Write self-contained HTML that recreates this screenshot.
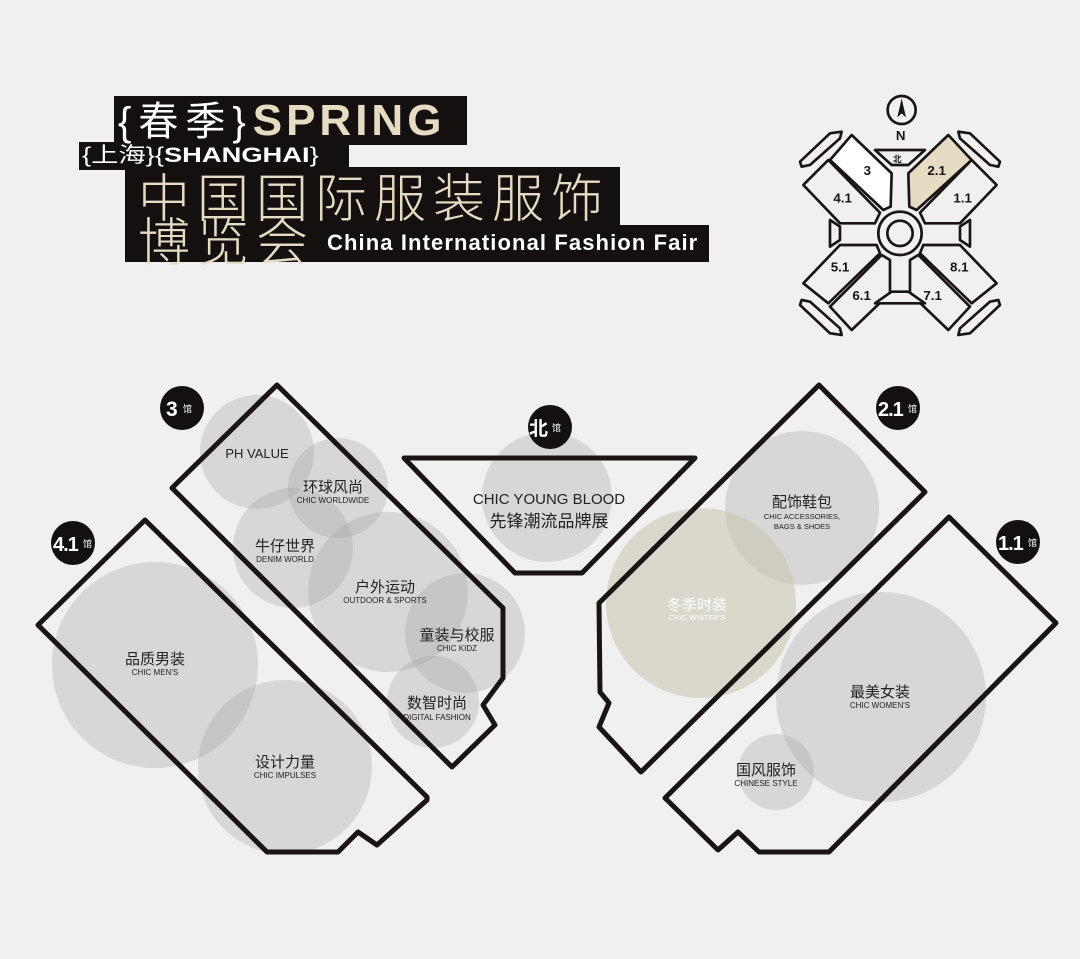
<!DOCTYPE html>
<html><head><meta charset="utf-8">
<style>
html,body{margin:0;padding:0;background:#f0f0f0;}
body{width:1080px;height:959px;overflow:hidden;position:relative;font-family:"Liberation Sans","Noto Sans CJK SC",sans-serif;}
.blk{position:absolute;background:#141010;}
</style></head><body>
<div class="blk" style="left:114px;top:96px;width:353px;height:49px;"></div>
<div class="blk" style="left:79px;top:142px;width:270px;height:28px;"></div>
<div class="blk" style="left:125px;top:167px;width:495px;height:95px;"></div>
<div class="blk" style="left:318px;top:225px;width:391px;height:37px;"></div>
<div style="position:absolute;left:118px;top:96px;font-size:40px;line-height:50px;color:#fff;white-space:nowrap;"><span style="letter-spacing:7px;">{春季}</span><span style="color:#e6dcc3;font-weight:bold;font-size:44px;letter-spacing:4px;">SPRING</span></div>
<div style="position:absolute;left:82px;top:142px;font-size:21px;line-height:28px;color:#fff;white-space:nowrap;transform:scaleX(1.3);transform-origin:0 0;">{上海}{<b>SHANGHAI</b>}</div>
<div style="position:absolute;left:138px;top:170px;font-size:52px;line-height:50px;color:#e6dcc3;font-family:'Noto Sans CJK SC',sans-serif;font-weight:300;letter-spacing:7px;white-space:nowrap;">中国国际服装服饰</div>
<div style="position:absolute;left:138px;top:214px;font-size:52px;line-height:50px;color:#e6dcc3;font-family:'Noto Sans CJK SC',sans-serif;font-weight:300;letter-spacing:7px;white-space:nowrap;">博览会</div>
<div style="position:absolute;left:327px;top:229px;font-size:22px;line-height:28px;color:#fff;font-weight:bold;white-space:nowrap;letter-spacing:1.1px;">China International Fashion Fair</div>

<svg width="1080" height="959" style="position:absolute;left:0;top:0;" xmlns="http://www.w3.org/2000/svg">
<g fill="#a0a0a0" fill-opacity="0.3">
<circle cx="257" cy="452" r="57"/>
<circle cx="338" cy="488" r="50"/>
<circle cx="293" cy="548" r="60"/>
<circle cx="388" cy="592" r="80"/>
<circle cx="465" cy="633" r="60"/>
<circle cx="433" cy="702" r="46"/>
<circle cx="155" cy="665" r="103"/>
<circle cx="285" cy="767" r="87"/>
<circle cx="547" cy="497" r="65"/>
<circle cx="802" cy="508" r="77"/>
<circle cx="881" cy="697" r="105"/>
<circle cx="776" cy="772" r="38"/>
</g>
<circle cx="701" cy="603" r="95" fill="#c8c4ae" fill-opacity="0.55"/>

<g fill="none" stroke="#1a1414" stroke-width="5" stroke-linejoin="round">
<polygon points="277,385 503,608 503,678 483,705 495,725 452,767 172,488"/>
<polygon points="145,520 427,797 427,800 377,845 358,832 338,852 267,852 38,625"/>
<polygon points="404,458 695,458 582,573 515,573"/>
<polygon points="819,385 925,492 641,772 599,727 609,703 600,692 599,603"/>
<polygon points="949,517 1056,623 829,852 759,852 738,832 718,850 665,798"/>
</g>

<g font-family="Liberation Sans,Noto Sans CJK SC,sans-serif" text-anchor="middle" fill="#222">
<text x="257" y="458" font-size="13">PH VALUE</text>
<text x="333" y="492" font-size="15">环球风尚</text><text x="333" y="503" font-size="8">CHIC WORLDWIDE</text>
<text x="285" y="551" font-size="15">牛仔世界</text><text x="285" y="562" font-size="8">DENIM WORLD</text>
<text x="385" y="592" font-size="15">户外运动</text><text x="385" y="603" font-size="8">OUTDOOR &amp; SPORTS</text>
<text x="457" y="640" font-size="15">童装与校服</text><text x="457" y="651" font-size="8">CHIC KIDZ</text>
<text x="437" y="708" font-size="15">数智时尚</text><text x="437" y="720" font-size="8">DIGITAL FASHION</text>
<text x="155" y="664" font-size="15">品质男装</text><text x="155" y="675" font-size="8">CHIC MEN'S</text>
<text x="285" y="767" font-size="15">设计力量</text><text x="285" y="778" font-size="8">CHIC IMPULSES</text>
<text x="549" y="504" font-size="15">CHIC YOUNG BLOOD</text><text x="549" y="527" font-size="17">先锋潮流品牌展</text>
<text x="802" y="507" font-size="15">配饰鞋包</text><text x="802" y="519" font-size="7.5">CHIC ACCESSORIES,</text><text x="802" y="529" font-size="7.5">BAGS &amp; SHOES</text>
<text x="697" y="610" font-size="15" fill="#fff">冬季时装</text><text x="697" y="620" font-size="7.5" fill="#fff">CHIC WINTER'S</text>
<text x="880" y="697" font-size="15">最美女装</text><text x="880" y="708" font-size="8">CHIC WOMEN'S</text>
<text x="766" y="775" font-size="15">国风服饰</text><text x="766" y="786" font-size="8">CHINESE STYLE</text>
</g>

<g font-family="Liberation Sans,Noto Sans CJK SC,sans-serif" fill="#fff" font-weight="bold">
<circle cx="182" cy="408" r="22" fill="#141010"/><text x="166" y="416" font-size="21">3</text><text x="183" y="412" font-size="9" font-weight="normal">馆</text>
<circle cx="73" cy="543" r="22" fill="#141010"/><text x="53" y="551" font-size="20" letter-spacing="-1">4.1</text><text x="83" y="547" font-size="9" font-weight="normal">馆</text>
<circle cx="550" cy="427" r="22" fill="#141010"/><text x="529" y="435" font-size="19" font-family="Noto Sans CJK SC,sans-serif">北</text><text x="552" y="431" font-size="9" font-weight="normal">馆</text>
<circle cx="898" cy="408" r="22" fill="#141010"/><text x="878" y="416" font-size="20" letter-spacing="-1">2.1</text><text x="908" y="412" font-size="9" font-weight="normal">馆</text>
<circle cx="1018" cy="542" r="22" fill="#141010"/><text x="998" y="550" font-size="20" letter-spacing="-1">1.1</text><text x="1028" y="546" font-size="9" font-weight="normal">馆</text>
</g>

<g transform="translate(780,90) scale(0.3333)">
<g stroke="#1a1414" stroke-width="8" stroke-linejoin="round" fill="#f0f0f0">
<polygon points="150,210 215,135 335,250 332,350 310,360" fill="#fff"/>
<polygon points="575,210 505,135 385,250 388,350 410,360" fill="#e5dcc3"/>
<polygon points="70,285 145,210 300,368 285,400 180,400"/>
<polygon points="650,285 575,210 420,368 435,400 540,400"/>
<polygon points="70,580 180,465 290,465 300,490 145,640"/>
<polygon points="650,580 540,465 430,465 420,490 575,640"/>
<polygon points="150,650 305,495 330,510 330,610 215,720"/>
<polygon points="570,650 415,495 390,510 390,610 505,720"/>
<polygon points="285,180 435,180 385,225 335,225"/>
<polygon points="335,605 385,605 435,640 285,640"/>
<polygon points="150,390 180,410 180,450 150,470"/>
<polygon points="570,390 540,410 540,450 570,470"/>
<polygon points="60,215 150,130 185,125 180,145 90,225 65,230"/>
<polygon points="660,215 570,130 535,125 540,145 630,225 655,230"/>
<polygon points="60,645 150,730 185,735 180,715 90,635 65,630"/>
<polygon points="660,645 570,730 535,735 540,715 630,635 655,630"/>
<circle cx="360" cy="430" r="65"/>
<circle cx="360" cy="430" r="38"/>
<circle cx="365" cy="60" r="42" fill="none"/>
</g>
<polygon points="365,25 352,82 365,70 378,82" fill="#1a1414"/>
<g font-family="Liberation Sans,Noto Sans CJK SC,sans-serif" font-weight="bold" font-size="40" fill="#1a1414" text-anchor="middle">
<text x="362" y="150">N</text>
<text x="352" y="216" font-size="26">北</text>
<text x="262" y="255">3</text><text x="470" y="255">2.1</text>
<text x="188" y="338">4.1</text><text x="548" y="338">1.1</text>
<text x="180" y="545">5.1</text><text x="538" y="545">8.1</text>
<text x="245" y="630">6.1</text><text x="458" y="630">7.1</text>
</g>
</g>
</svg>
</body></html>
